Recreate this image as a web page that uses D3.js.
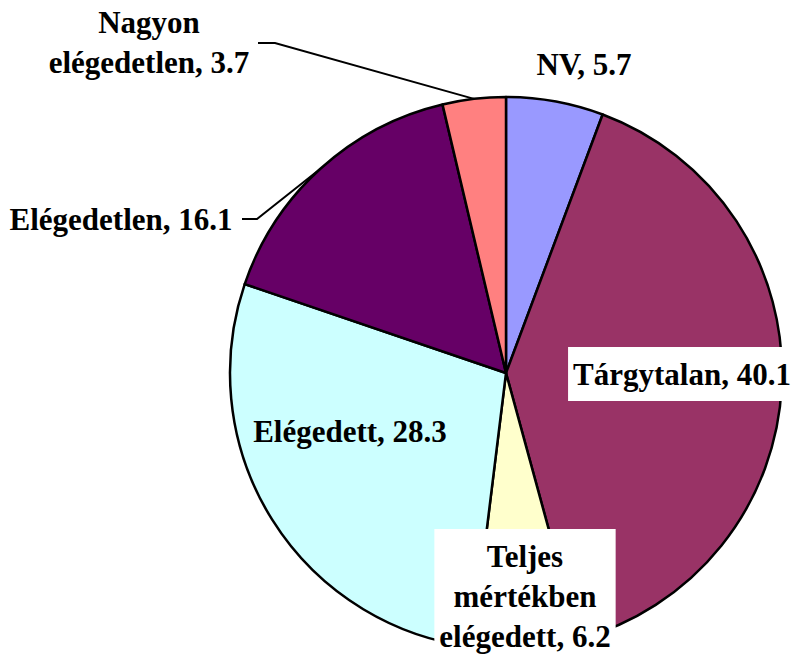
<!DOCTYPE html>
<html>
<head>
<meta charset="utf-8">
<script src="https://cdn.jsdelivr.net/npm/d3@7"></script>
<style>
    body { margin: 0; background: #fff; }
</style>
</head>
<body>
<div id="chart"></div>
<script>
// Slices, clockwise from 12 o'clock
var categories = ["NV", "Tárgytalan", "Teljes mértékben elégedett", "Elégedett", "Elégedetlen", "Nagyon elégedetlen"];
var values = [5.7, 40.1, 6.2, 28.3, 16.1, 3.7];
var colors = ["#9999FF", "#993366", "#FFFFCC", "#CCFFFF", "#660066", "#FF8080"];
// How each category name wraps in its label
var nameLines = [["NV"], ["Tárgytalan"], ["Teljes", "mértékben", "elégedett"], ["Elégedett"], ["Elégedetlen"], ["Nagyon", "elégedetlen"]];

// Label layout (centre x, first baseline y, white box, leader start)
var labelPos = [
    { x: 584, y: 75 },
    { x: 682, y: 385, box: true },
    { x: 525, y: 567, box: true },
    { x: 350, y: 442 },
    { x: 121, y: 230, leader: [[242, 219], [257, 219]] },
    { x: 149, y: 33, leader: [[258, 43], [275, 43]] }
];

var width = 796, height = 656,
    cx = 506, cy = 373, radius = 276,
    lineGap = 40;

var svg = d3.select("#chart")
    .append("svg")
    .attr("width", width)
    .attr("height", height);

var pie = d3.pie().sort(null).value(function(d) { return d; });
var arcs = pie(values);

var arc = d3.arc().innerRadius(0).outerRadius(radius);

var g = svg.append("g")
    .attr("transform", "translate(" + cx + "," + cy + ")");

g.selectAll(".slice")
    .data(arcs)
    .enter()
    .append("path")
    .attr("class", "slice")
    .attr("d", arc)
    .attr("fill", function(d, i) { return colors[i]; })
    .attr("stroke", "#000")
    .attr("stroke-width", 2.5)
    .attr("stroke-linejoin", "round");

// Leader lines go to the slice edge at its mid angle
arcs.forEach(function(d, i) {
    var p = labelPos[i];
    if (!p.leader) return;
    var mid = (d.startAngle + d.endAngle) / 2;
    var end = [cx + Math.sin(mid) * radius, cy - Math.cos(mid) * radius];
    svg.append("path")
        .attr("d", d3.line()(p.leader.concat([end])))
        .attr("fill", "none")
        .attr("stroke", "#000")
        .attr("stroke-width", 2);
});

// Labels
arcs.forEach(function(d, i) {
    var p = labelPos[i];
    var lines = nameLines[i].slice();
    lines[lines.length - 1] += ", " + values[i].toFixed(1);

    var boxG = svg.append("g");
    var text = svg.append("text")
        .attr("font-family", "'Liberation Serif'")
        .attr("font-weight", "bold")
        .attr("font-size", 31)
        .attr("fill", "#000")
        .attr("text-anchor", "middle");
    lines.forEach(function(t, k) {
        text.append("tspan")
            .attr("x", p.x)
            .attr("y", p.y + k * lineGap)
            .text(t);
    });

    if (p.box) {
        var bb = text.node().getBBox();
        boxG.append("rect")
            .attr("x", bb.x - 5)
            .attr("y", bb.y - 10)
            .attr("width", bb.width + 10)
            .attr("height", bb.height + 19)
            .attr("fill", "#fff");
    }
});
</script>
</body>
</html>
